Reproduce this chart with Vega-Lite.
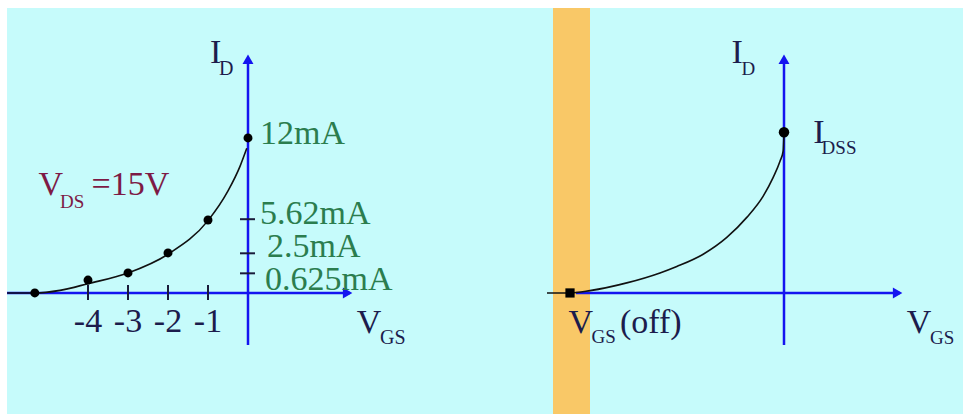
{
  "$schema": "https://vega.github.io/schema/vega-lite/v6.json",
  "background": "white",
  "padding": {"left": 4, "top": 8, "right": 0, "bottom": 0},
  "bounds": "flush",
  "spacing": 0,
  "config": {"view": {"fill": "#c6fbfb", "stroke": null}, "font": "Liberation Serif"},
  "resolve": {"scale": {"x": "independent", "y": "independent"}},
  "datasets": {
    "L_axes": [{"v": 0, "i": -4.03, "v2": 0, "i2": 18.2}, {"v": -6.025, "i": 0, "v2": 2.55, "i2": 0}],
    "L_ticks": [
      {"v": -4, "i": 0.62, "v2": -4, "i2": -0.54},
      {"v": -3, "i": 0.62, "v2": -3, "i2": -0.54},
      {"v": -2, "i": 0.62, "v2": -2, "i2": -0.54},
      {"v": -1, "i": 0.62, "v2": -1, "i2": -0.54},
      {"v": -0.2, "i": 5.71, "v2": 0.175, "i2": 5.71},
      {"v": -0.2, "i": 3.07, "v2": 0.175, "i2": 3.07},
      {"v": -0.2, "i": 1.52, "v2": 0.175, "i2": 1.52}
    ],
    "L_up": [{"v": 0, "i": 18.1}],
    "L_right": [{"v": 2.49, "i": 0}],
    "L_curve": [
      {"v": -6.02, "i": 0}, {"v": -5.33, "i": 0}, {"v": -4.7, "i": 0.2}, {"v": -4, "i": 0.72},
      {"v": -3, "i": 1.55}, {"v": -2, "i": 3.0}, {"v": -1, "i": 5.6}, {"v": -0.5, "i": 7.9},
      {"v": -0.2, "i": 9.8}, {"v": -0.03, "i": 11.2}
    ],
    "L_pts": [
      {"v": -5.33, "i": 0}, {"v": -4, "i": 1.0}, {"v": -3, "i": 1.55},
      {"v": -2, "i": 3.1}, {"v": -1, "i": 5.65}, {"v": 0, "i": 12.0}
    ],
    "L_green": [
      {"v": 0.3, "i": 11.54, "label": "12mA"},
      {"v": 0.3, "i": 5.36, "label": "5.62mA"},
      {"v": 0.475, "i": 2.79, "label": "2.5mA"},
      {"v": 0.425, "i": 0.23, "label": "0.625mA"}
    ],
    "L_ticklabels": [
      {"v": -4, "i": -3.05, "label": "-4"},
      {"v": -3, "i": -3.05, "label": "-3"},
      {"v": -2, "i": -3.05, "label": "-2"},
      {"v": -1, "i": -3.05, "label": "-1"}
    ],
    "L_big": [
      {"v": -0.95, "i": 17.78, "label": "I"},
      {"v": 2.72, "i": -3.12, "label": "V"}
    ],
    "L_sub": [
      {"v": -0.725, "i": 16.9, "label": "D"},
      {"v": 3.3, "i": -3.95, "label": "GS"}
    ],
    "L_red": [
      {"v": -5.24, "i": 7.59, "label": "V"},
      {"v": -3.91, "i": 7.59, "label": "=15V"}
    ],
    "L_redsub": [{"v": -4.7, "i": 6.6, "label": "DS"}],
    "R_band": [{"v": -5.775, "v2": -4.85}],
    "R_axes": [{"v": 0, "i": -4.03, "v2": 0, "i2": 18.2}, {"v": -5.2, "i": 0, "v2": 2.9, "i2": 0}],
    "R_up": [{"v": 0, "i": 18.1}],
    "R_right": [{"v": 2.84, "i": 0}],
    "R_curve": [
      {"v": -5.925, "i": 0}, {"v": -5.35, "i": 0}, {"v": -4.85, "i": 0.18}, {"v": -3.93, "i": 0.78},
      {"v": -3.1, "i": 1.55}, {"v": -2.68, "i": 2.05}, {"v": -2.02, "i": 3.0}, {"v": -1.43, "i": 4.3},
      {"v": -0.93, "i": 5.85}, {"v": -0.52, "i": 7.5}, {"v": -0.27, "i": 8.95}, {"v": -0.1, "i": 10.2},
      {"v": -0.02, "i": 11.0}, {"v": 0, "i": 12.4}
    ],
    "R_sq": [{"v": -5.35, "i": 0}],
    "R_dot": [{"v": 0, "i": 12.44}],
    "R_big": [
      {"v": -1.31, "i": 17.8, "label": "I"},
      {"v": 0.73, "i": 11.59, "label": "I"},
      {"v": -5.39, "i": -3.12, "label": "V"},
      {"v": -4.1, "i": -3.1, "label": "(off)"},
      {"v": 3.07, "i": -3.1, "label": "V"}
    ],
    "R_sub": [
      {"v": -1.06, "i": 16.9, "label": "D"},
      {"v": 0.94, "i": 10.75, "label": "DSS"},
      {"v": -4.81, "i": -3.9, "label": "GS"},
      {"v": 3.65, "i": -3.95, "label": "GS"}
    ]
  },
  "hconcat": [
    {
      "width": 473,
      "height": 406,
      "encoding": {
        "x": {"field": "v", "type": "quantitative", "scale": {"domain": [-6.025, 5.8], "nice": false, "zero": false}, "axis": null},
        "y": {"field": "i", "type": "quantitative", "scale": {"domain": [-9.37, 22.06], "nice": false, "zero": false}, "axis": null}
      },
      "layer": [
        {"data": {"name": "L_axes"}, "mark": {"type": "rule", "color": "#1414f0", "strokeWidth": 2.5},
         "encoding": {"x2": {"field": "v2"}, "y2": {"field": "i2"}}},
        {"data": {"name": "L_ticks"}, "mark": {"type": "rule", "color": "#1a1a3a", "strokeWidth": 2},
         "encoding": {"x2": {"field": "v2"}, "y2": {"field": "i2"}}},
        {"data": {"name": "L_up"}, "mark": {"type": "point", "shape": "triangle-up", "filled": true, "color": "#1414f0", "size": 120, "opacity": 1}},
        {"data": {"name": "L_right"}, "mark": {"type": "point", "shape": "triangle-right", "filled": true, "color": "#1414f0", "size": 120, "opacity": 1}},
        {"data": {"name": "L_curve"}, "mark": {"type": "line", "color": "#111111", "strokeWidth": 1.6, "interpolate": "monotone"}},
        {"data": {"name": "L_pts"}, "mark": {"type": "circle", "color": "#000000", "size": 80, "opacity": 1}},
        {"data": {"name": "L_green"}, "mark": {"type": "text", "align": "left", "baseline": "alphabetic", "fontSize": 34, "color": "#2b7d4e"},
         "encoding": {"text": {"field": "label"}}},
        {"data": {"name": "L_ticklabels"}, "mark": {"type": "text", "align": "center", "baseline": "alphabetic", "fontSize": 34, "color": "#1c1c4c"},
         "encoding": {"text": {"field": "label"}}},
        {"data": {"name": "L_big"}, "mark": {"type": "text", "align": "left", "baseline": "alphabetic", "fontSize": 34, "color": "#1c1c4c"},
         "encoding": {"text": {"field": "label"}}},
        {"data": {"name": "L_sub"}, "mark": {"type": "text", "align": "left", "baseline": "alphabetic", "fontSize": 20, "color": "#1c1c4c"},
         "encoding": {"text": {"field": "label"}}},
        {"data": {"name": "L_red"}, "mark": {"type": "text", "align": "left", "baseline": "alphabetic", "fontSize": 34, "color": "#7d1a45"},
         "encoding": {"text": {"field": "label"}}},
        {"data": {"name": "L_redsub"}, "mark": {"type": "text", "align": "left", "baseline": "alphabetic", "fontSize": 19, "color": "#7d1a45"},
         "encoding": {"text": {"field": "label"}}}
      ]
    },
    {
      "width": 483,
      "height": 406,
      "layer": [
        {"data": {"name": "R_band"}, "mark": {"type": "rect", "color": "#f9c867", "opacity": 1},
         "encoding": {
           "x": {"field": "v", "type": "quantitative", "scale": {"domain": [-7.6, 4.475], "nice": false, "zero": false}, "axis": null},
           "x2": {"field": "v2"}}},
        {"data": {"name": "R_axes"}, "mark": {"type": "rule", "color": "#1414f0", "strokeWidth": 2.5},
         "encoding": {
           "x": {"field": "v", "type": "quantitative", "scale": {"domain": [-7.6, 4.475], "nice": false, "zero": false}, "axis": null},
           "y": {"field": "i", "type": "quantitative", "scale": {"domain": [-9.37, 22.06], "nice": false, "zero": false}, "axis": null},
           "x2": {"field": "v2"}, "y2": {"field": "i2"}}},
        {"data": {"name": "R_up"}, "mark": {"type": "point", "shape": "triangle-up", "filled": true, "color": "#1414f0", "size": 120, "opacity": 1},
         "encoding": {"x": {"field": "v", "type": "quantitative"}, "y": {"field": "i", "type": "quantitative"}}},
        {"data": {"name": "R_right"}, "mark": {"type": "point", "shape": "triangle-right", "filled": true, "color": "#1414f0", "size": 120, "opacity": 1},
         "encoding": {"x": {"field": "v", "type": "quantitative"}, "y": {"field": "i", "type": "quantitative"}}},
        {"data": {"name": "R_curve"}, "mark": {"type": "line", "color": "#111111", "strokeWidth": 1.6, "interpolate": "monotone"},
         "encoding": {"x": {"field": "v", "type": "quantitative"}, "y": {"field": "i", "type": "quantitative"}}},
        {"data": {"name": "R_sq"}, "mark": {"type": "square", "color": "#000000", "size": 85, "opacity": 1},
         "encoding": {"x": {"field": "v", "type": "quantitative"}, "y": {"field": "i", "type": "quantitative"}}},
        {"data": {"name": "R_dot"}, "mark": {"type": "circle", "color": "#000000", "size": 110, "opacity": 1},
         "encoding": {"x": {"field": "v", "type": "quantitative"}, "y": {"field": "i", "type": "quantitative"}}},
        {"data": {"name": "R_big"}, "mark": {"type": "text", "align": "left", "baseline": "alphabetic", "fontSize": 34, "color": "#1c1c4c"},
         "encoding": {"x": {"field": "v", "type": "quantitative"}, "y": {"field": "i", "type": "quantitative"}, "text": {"field": "label"}}},
        {"data": {"name": "R_sub"}, "mark": {"type": "text", "align": "left", "baseline": "alphabetic", "fontSize": 19, "color": "#1c1c4c"},
         "encoding": {"x": {"field": "v", "type": "quantitative"}, "y": {"field": "i", "type": "quantitative"}, "text": {"field": "label"}}}
      ]
    }
  ]
}
